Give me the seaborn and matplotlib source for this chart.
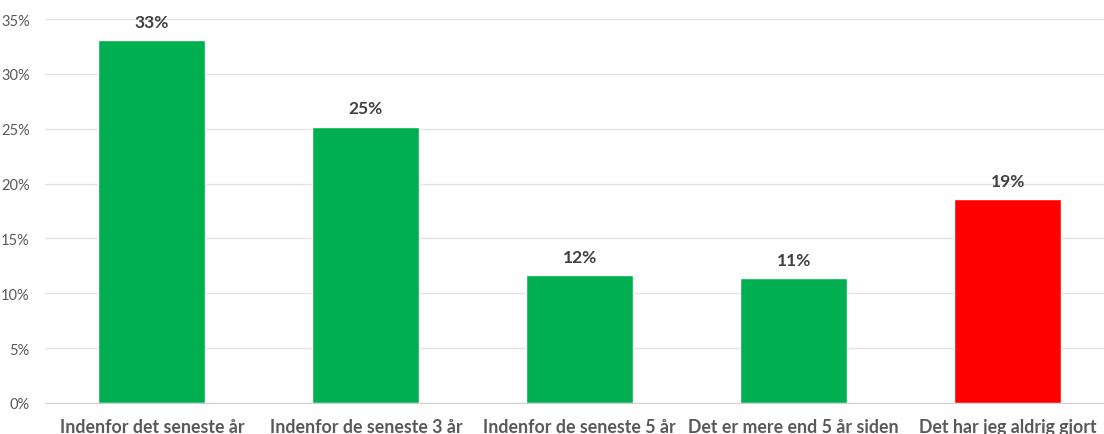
import seaborn as sns
import matplotlib.pyplot as plt
import matplotlib.ticker as mtick
import pandas as pd

# data
categories = ["Indenfor det seneste år", "Indenfor de seneste 3 år",
              "Indenfor de seneste 5 år", "Det er mere end 5 år siden",
              "Det har jeg aldrig gjort"]
values = [33.1, 25.2, 11.7, 11.4, 18.6]
labels = ["33%", "25%", "12%", "11%", "19%"]
bar_colors = ["#00B050", "#00B050", "#00B050", "#00B050", "#FF0000"]

df = pd.DataFrame({"cat": categories, "val": values})

sns.set_style("white")
plt.rcParams['font.family'] = ['Lato', 'DejaVu Sans']

fig = plt.figure(figsize=(11.04, 4.35), dpi=100)
ax = fig.add_axes([45 / 1104, 31 / 435, (1104 - 45) / 1104, 384 / 435])

sns.barplot(data=df, x="cat", y="val", hue="cat", palette=bar_colors,
            width=0.5, legend=False, ax=ax, saturation=1)

for i, (v, lab) in enumerate(zip(values, labels)):
    ax.annotate(lab, (i, v), xytext=(0, 13), textcoords="offset points",
                ha="center", va="center", fontsize=12.5, fontweight="bold",
                color="#404040")

ax.set_ylim(0, 35)
ax.set_xlim(-0.5, 4.45)
ax.yaxis.set_major_locator(mtick.MultipleLocator(5))
ax.yaxis.set_major_formatter(mtick.FuncFormatter(lambda y, _: f"{y:.0f}%"))
ax.grid(axis="y", color="#E3E3E3", linewidth=1)
ax.set_axisbelow(True)
for s in ["top", "right", "left"]:
    ax.spines[s].set_visible(False)
ax.spines["bottom"].set_color("#D0D0D0")
ax.tick_params(axis="y", length=0, labelsize=10.5, labelcolor="#595959", pad=11)
ax.tick_params(axis="x", length=0, labelsize=12.8, labelcolor="#595959", pad=11)
for t in ax.get_xticklabels():
    t.set_fontweight("bold")
ax.set_xlabel("")
ax.set_ylabel("")

fig.savefig("out.png", dpi=100)
